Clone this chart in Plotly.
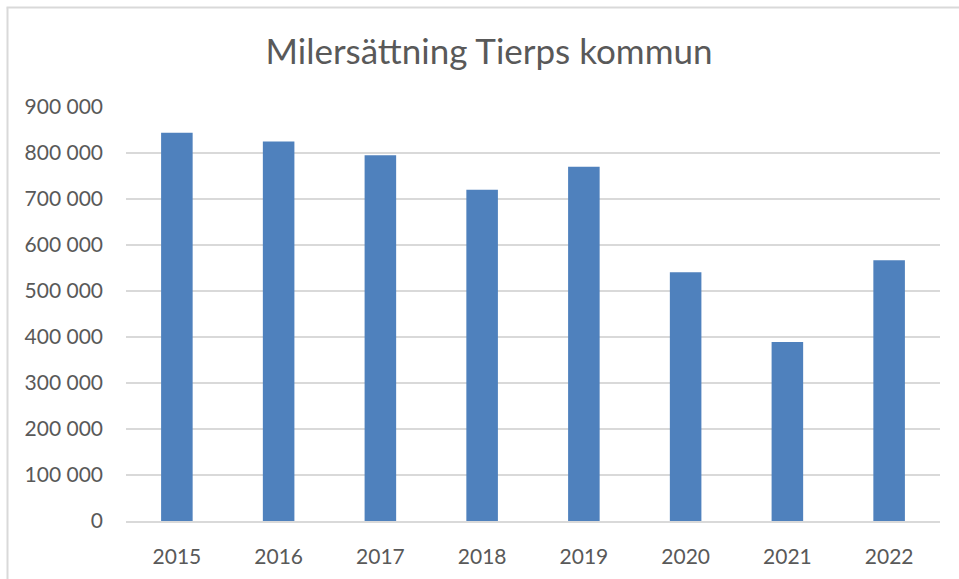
import plotly.graph_objects as go

years = ["2015", "2016", "2017", "2018", "2019", "2020", "2021", "2022"]
values = [844000, 825000, 795000, 720000, 770000, 541000, 389000, 567000]
tick_vals = [0, 100000, 200000, 300000, 400000, 500000, 600000, 700000, 800000, 900000]
tick_text = ["0", "100 000", "200 000", "300 000", "400 000", "500 000",
             "600 000", "700 000", "800 000", "900 000"]

W, H = 959, 579
L, R, T, B = 126, 19, 107, 58
pw, ph = W - L - R, H - T - B

def px(x):
    return (x - L) / pw

def py(y):
    return (H - B - y) / ph

fig = go.Figure(go.Bar(
    x=years, y=values,
    marker=dict(color="#4f81bd", line=dict(width=0)),
    width=0.31,
))

fig.update_layout(
    width=W, height=H,
    margin=dict(l=L, r=R, t=T, b=B),
    paper_bgcolor="white", plot_bgcolor="white",
    title=dict(text="Milersättning Tierps kommun", x=489 / W, xref="container",
               xanchor="center",
               y=1 - 52 / H, yanchor="middle",
               font=dict(family="Lato", size=35, color="#595959")),
    font=dict(family="Lato", size=21, color="#595959"),
    showlegend=False,
    shapes=[
        dict(type="line", xref="paper", yref="paper",
             x0=px(7.5), x1=px(7.5), y0=py(580), y1=py(7.5),
             line=dict(color="#d9d9d9", width=2)),
        dict(type="line", xref="paper", yref="paper",
             x0=px(6.5), x1=px(960), y0=py(7.5), y1=py(7.5),
             line=dict(color="#d9d9d9", width=2)),
    ],
)
fig.update_xaxes(showgrid=False, showline=True, linecolor="#d9d9d9", linewidth=1.5,
                 ticks="", tickfont=dict(size=21, color="#595959"), ticklabelstandoff=16)
fig.update_yaxes(range=[0, 900000], tickvals=tick_vals, ticktext=tick_text,
                 showgrid=True, gridcolor="#d9d9d9", gridwidth=1.5,
                 zeroline=False, showline=False, ticks="",
                 tickfont=dict(size=21, color="#595959"), ticklabelstandoff=22)

fig.write_html("out.html", config={"displayModeBar": False},
               post_script="document.body.style.margin='0';")
